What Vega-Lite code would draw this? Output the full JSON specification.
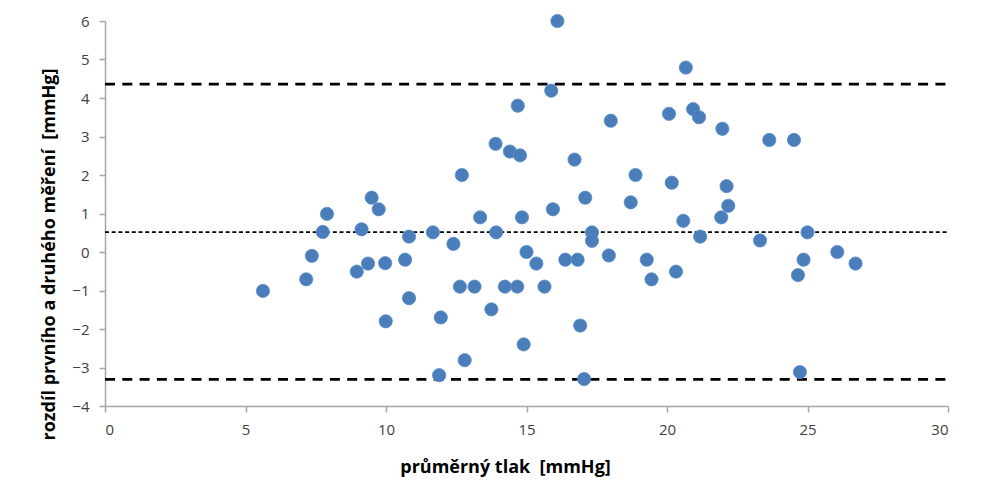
{
  "$schema": "https://vega.github.io/schema/vega-lite/v6.json",
  "autosize": {"type": "none"},
  "padding": {"left": 105, "top": 21, "right": 33, "bottom": 93},
  "width": 843,
  "height": 385,
  "background": "white",
  "config": {
    "view": {"stroke": null},
    "font": "Open Sans"
  },
  "datasets": {
    "points": [
      {"x": 5.62, "y": -1.01}, {"x": 7.16, "y": -0.71}, {"x": 7.36, "y": -0.1},
      {"x": 7.75, "y": 0.52}, {"x": 7.9, "y": 0.99}, {"x": 8.96, "y": -0.51},
      {"x": 9.13, "y": 0.59}, {"x": 9.36, "y": -0.3}, {"x": 9.49, "y": 1.41},
      {"x": 9.74, "y": 1.11}, {"x": 9.97, "y": -0.29}, {"x": 9.99, "y": -1.8},
      {"x": 10.68, "y": -0.2}, {"x": 10.82, "y": 0.4}, {"x": 10.82, "y": -1.2},
      {"x": 11.67, "y": 0.51}, {"x": 11.89, "y": -3.2}, {"x": 11.95, "y": -1.7},
      {"x": 12.4, "y": 0.21}, {"x": 12.63, "y": -0.9}, {"x": 12.7, "y": 2.0},
      {"x": 12.8, "y": -2.81}, {"x": 13.15, "y": -0.9}, {"x": 13.35, "y": 0.9},
      {"x": 13.75, "y": -1.49}, {"x": 13.9, "y": 2.81}, {"x": 13.92, "y": 0.51},
      {"x": 14.23, "y": -0.9}, {"x": 14.41, "y": 2.61}, {"x": 14.67, "y": -0.9},
      {"x": 14.69, "y": 3.8}, {"x": 14.77, "y": 2.51}, {"x": 14.84, "y": 0.9},
      {"x": 14.9, "y": -2.4}, {"x": 15.0, "y": 0.0}, {"x": 15.35, "y": -0.3},
      {"x": 15.64, "y": -0.9}, {"x": 15.88, "y": 4.19}, {"x": 15.94, "y": 1.11},
      {"x": 16.1, "y": 6.0}, {"x": 16.38, "y": -0.2}, {"x": 16.71, "y": 2.4},
      {"x": 16.82, "y": -0.2}, {"x": 16.91, "y": -1.91}, {"x": 17.05, "y": -3.3},
      {"x": 17.09, "y": 1.41}, {"x": 17.33, "y": 0.51}, {"x": 17.33, "y": 0.29},
      {"x": 17.93, "y": -0.09}, {"x": 18.0, "y": 3.41}, {"x": 18.71, "y": 1.29},
      {"x": 18.88, "y": 2.0}, {"x": 19.28, "y": -0.2}, {"x": 19.45, "y": -0.71},
      {"x": 20.07, "y": 3.59}, {"x": 20.17, "y": 1.8}, {"x": 20.32, "y": -0.51},
      {"x": 20.58, "y": 0.81}, {"x": 20.67, "y": 4.79}, {"x": 20.93, "y": 3.71},
      {"x": 21.14, "y": 3.5}, {"x": 21.18, "y": 0.4}, {"x": 21.93, "y": 0.9},
      {"x": 21.97, "y": 3.2}, {"x": 22.12, "y": 1.71}, {"x": 22.18, "y": 1.2},
      {"x": 23.31, "y": 0.3}, {"x": 23.64, "y": 2.91}, {"x": 24.52, "y": 2.91},
      {"x": 24.66, "y": -0.6}, {"x": 24.73, "y": -3.12}, {"x": 24.86, "y": -0.2},
      {"x": 25.0, "y": 0.51}, {"x": 26.06, "y": 0.0}, {"x": 26.71, "y": -0.3}
    ],
    "limits": [
      {"kind": "upper", "x1": 0, "x2": 30, "y": 4.36},
      {"kind": "lower", "x1": 0, "x2": 30, "y": -3.31}
    ],
    "mean": [
      {"kind": "mean", "x1": 0, "x2": 30, "y": 0.515}
    ]
  },
  "encoding": {
    "x": {
      "field": "x", "type": "quantitative",
      "scale": {"domain": [0, 30], "nice": false, "zero": false},
      "axis": {
        "title": "průměrný tlak\u00a0 [mmHg]",
        "values": [0, 5, 10, 15, 20, 25, 30],
        "grid": false,
        "domainColor": "#A6A6A6", "domainWidth": 1.5,
        "tickColor": "#A6A6A6", "tickSize": 6, "tickWidth": 1.5,
        "labelFont": "Open Sans", "labelFontSize": 15, "labelColor": "#404040",
        "labelPadding": 10,
        "titleFont": "Open Sans", "titleFontSize": 18, "titleFontWeight": "bold",
        "titleColor": "#000000", "titlePadding": 21, "titleX": 400
      }
    },
    "y": {
      "field": "y", "type": "quantitative",
      "scale": {"domain": [-4, 6], "nice": false, "zero": false},
      "axis": {
        "title": "rozdíl prvního a druhého měření\u00a0 [mmHg]",
        "values": [-4, -3, -2, -1, 0, 1, 2, 3, 4, 5, 6],
        "grid": false,
        "domainColor": "#A6A6A6", "domainWidth": 1.5,
        "tickColor": "#A6A6A6", "tickSize": 6, "tickWidth": 1.5,
        "labelFont": "Open Sans", "labelFontSize": 15, "labelColor": "#404040",
        "labelPadding": 10,
        "titleFont": "Open Sans", "titleFontSize": 18, "titleFontWeight": "bold",
        "titleColor": "#000000", "titlePadding": 13, "titleY": 233
      }
    }
  },
  "layer": [
    {
      "data": {"name": "limits"},
      "mark": {"type": "rule", "color": "#000000", "strokeWidth": 2.8, "strokeDash": [10, 7.3]},
      "encoding": {
        "x": {"field": "x1", "type": "quantitative"},
        "x2": {"field": "x2"},
        "y": {"field": "y", "type": "quantitative"}
      }
    },
    {
      "data": {"name": "mean"},
      "mark": {"type": "rule", "color": "#000000", "strokeWidth": 1.8, "strokeDash": [4, 2.7]},
      "encoding": {
        "x": {"field": "x1", "type": "quantitative"},
        "x2": {"field": "x2"},
        "y": {"field": "y", "type": "quantitative"}
      }
    },
    {
      "data": {"name": "points"},
      "mark": {"type": "circle", "size": 175, "color": "#4A7EBB", "opacity": 1, "stroke": "#5B8CC8", "strokeWidth": 0.8},
      "encoding": {
        "x": {"field": "x", "type": "quantitative"},
        "y": {"field": "y", "type": "quantitative"}
      }
    }
  ]
}
